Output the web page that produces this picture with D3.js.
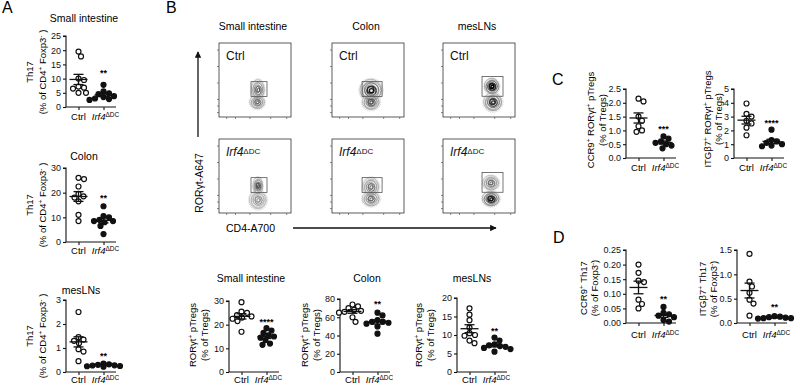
<!DOCTYPE html>
<html>
<head>
<meta charset="utf-8">
<script src="https://cdn.jsdelivr.net/npm/d3@7"></script>
<style>
  body { margin: 0; background: #fff; }
  svg { display: block; font-family: 'Liberation Sans', Arial, sans-serif; }
</style>
</head>
<body>
<svg id="fig" width="800" height="386"></svg>
<script>
'use strict'

// ---- values ----
var groups = ['Ctrl', 'Irf4']

var siTh17Ctrl = [19.5, 17.8, 10, 9.5, 7.2, 6.8, 6.5, 5, 5]
var siTh17Ko = [7.8, 5.5, 4.8, 4.5, 3.8, 3.5, 3, 2.8, 2.5]
var colTh17Ctrl = [26, 25.5, 22.5, 19.5, 18.5, 18, 16.5, 11, 8.5]
var colTh17Ko = [14.5, 10.5, 10, 9, 8.5, 8.5, 8, 6.5, 3.2]
var mesTh17Ctrl = [2.5, 1.45, 1.35, 1.3, 1.2, 0.95, 0.85, 0.45]
var mesTh17Ko = [0.35, 0.32, 0.3, 0.28, 0.27, 0.25, 0.24, 0.22]

var siRorCtrl = [29.5, 25.5, 25, 24, 23.5, 23, 22.5, 21.5, 17]
var siRorKo = [18.5, 17.5, 16.5, 15.5, 15, 14.5, 13.5, 12, 11.5]
var colRorCtrl = [74, 72, 70, 68, 67, 66, 65, 60, 55]
var colRorKo = [65, 62, 57, 55, 55, 54, 53, 50, 42]
var mesRorCtrl = [17.2, 15.5, 14, 12, 10.5, 10, 9.8, 8.5, 7.8]
var mesRorKo = [9.3, 8.5, 7.5, 7.2, 7, 6.8, 6.5, 6.2, 5.5]

var ccr9TregCtrl = [2.15, 2.05, 1.5, 1.35, 1.15, 1.0, 0.95]
var ccr9TregKo = [0.78, 0.7, 0.6, 0.55, 0.5, 0.45, 0.35]
var itgTregCtrl = [3.95, 3.2, 3.0, 2.7, 2.5, 2.2, 1.65]
var itgTregKo = [2.05, 1.3, 1.2, 1.1, 1.0, 0.9, 0.85]

var ccr9Th17Ctrl = [0.2, 0.172, 0.145, 0.14, 0.08, 0.065, 0.05]
var ccr9Th17Ko = [0.055, 0.035, 0.03, 0.025, 0.02, 0.01, 0.005]
var itgTh17Ctrl = [1.42, 0.85, 0.75, 0.62, 0.48, 0.4, 0.15]
var itgTh17Ko = [0.14, 0.13, 0.12, 0.11, 0.1, 0.1, 0.09]

var ticksSiTh17 = [0, 5, 10, 15, 20, 25]
var ticks30 = [0, 10, 20, 30]
var ticks3 = [0, 1, 2, 3]
var ticks80 = [0, 20, 40, 60, 80]
var ticks20 = [0, 5, 10, 15, 20]
var ticks25 = [0, 0.5, 1, 1.5, 2, 2.5]
var ticks5 = [0, 1, 2, 3, 4, 5]
var ticks025 = [0, 0.05, 0.1, 0.15, 0.2, 0.25]
var ticks15 = [0, 0.5, 1, 1.5]

// flow cytometry panels (axis units = decades)
var flowCols = ['Small intestine', 'Colon', 'mesLNs']
var flowRows = ['Ctrl', 'Irf4']
var flowGates = [[1.9, 2.9, 1.15, 2.05], [1.78, 3.03, 1.15, 2.05], [2.34, 3.65, 1.16, 2.36]]
// [col, row, cd4, ror, spreadX, spreadY, density]
var flowPops = [
  [0, 0, 2.34, 1.55, 0.33, 0.5, 0.55],
  [0, 0, 2.3, 0.8, 0.38, 0.34, 0.5],
  [1, 0, 2.34, 1.52, 0.56, 0.54, 0.9],
  [1, 0, 2.34, 0.8, 0.44, 0.39, 0.6],
  [2, 0, 2.96, 1.76, 0.38, 0.39, 1],
  [2, 0, 3.02, 0.8, 0.47, 0.45, 0.8],
  [0, 1, 2.34, 1.54, 0.25, 0.43, 0.6],
  [0, 1, 2.34, 0.69, 0.44, 0.46, 0.35],
  [1, 1, 2.34, 1.48, 0.41, 0.46, 0.5],
  [1, 1, 2.34, 0.75, 0.44, 0.37, 0.5],
  [2, 1, 2.9, 1.72, 0.41, 0.37, 0.5],
  [2, 1, 2.9, 0.75, 0.44, 0.37, 0.9]
]
var flowXTicks = [0.35, 0.9, 1.8, 3.1, 4.1]
var flowYTicks = [0.2, 0.6, 1, 2, 3, 4]

var svg = d3.select('#fig')
var FS = 9.5
var TFS = 9

// tiny markup: ^{..} superscript, *{..} italic
function rich(sel, str) {
  var re = /\^\{([^}]*)\}|\*\{([^}]*)\}|([^^*]+)/g
  var m, lifted = false
  while ((m = re.exec(str))) {
    var t = sel.append('tspan')
    if (m[1] !== undefined) {
      t.text(m[1]).attr('font-size', '0.68em').attr('dy', -3.5)
      lifted = true
    } else {
      if (lifted) { t.attr('dy', 3.5); lifted = false }
      t.text(m[2] !== undefined ? m[2] : m[3])
      if (m[2] !== undefined) t.attr('font-style', 'italic')
    }
  }
  return sel
}

function swarm(vals, y, cx, r) {
  var placed = []
  return vals.map(function(v) {
    var py = y(v), px = cx
    for (var d = 0; d < 20; d += 0.5) {
      var found = false
      var cand = d === 0 ? [0] : [d, -d]
      for (var k = 0; k < cand.length; k++) {
        var tx = cx + cand[k]
        var ok = placed.every(function(p) {
          var dx = p[0] - tx, dy = p[1] - py
          return dx * dx + dy * dy >= (2 * r + 0.4) * (2 * r + 0.4)
        })
        if (ok) { px = tx; found = true; break }
      }
      if (found) break
    }
    placed.push([px, py])
    return { v: v, x: px, y: py }
  })
}

function dotPlot(o) {
  var g = svg.append('g')
  var y = d3.scaleLinear().domain([0, d3.max(o.ticks)]).range([o.bot, o.top])
  var x = d3.scalePoint().domain(groups).range([o.x0, o.x0 + 50]).padding(0.5)

  var yAxis = d3.axisLeft(y).tickValues(o.ticks).tickSize(3).tickPadding(2)
    .tickFormat(d3.format(o.fmt || 'd'))
  g.append('g').attr('transform', 'translate(' + o.x0 + ',0)').call(yAxis)
    .call(function(a) {
      a.select('.domain').attr('d', 'M-3,' + y(d3.max(o.ticks)) + 'H0V' + o.bot)
      a.selectAll('text').attr('font-size', TFS).attr('font-family', null).attr('fill', '#111')
    })

  var xAxis = d3.axisBottom(x).tickSize(3).tickFormat('')
  g.append('g').attr('transform', 'translate(0,' + o.bot + ')').call(xAxis)
    .call(function(a) {
      a.select('.domain').attr('d', 'M' + o.x0 + ',0H' + (o.x0 + 50))
    })
  g.selectAll('.domain, .tick line').attr('stroke', '#111').attr('stroke-width', 1.1)

  var xl = o.bot + (o.xlabDy || 12)
  g.append('text').attr('x', x('Ctrl')).attr('y', xl).attr('text-anchor', 'middle')
    .attr('font-size', FS).text('Ctrl')
  rich(g.append('text').attr('x', x('Irf4') + 2).attr('y', xl).attr('text-anchor', 'middle')
    .attr('font-size', FS), '*{Irf4}^{ΔDC}')

  if (o.title) {
    g.append('text').attr('x', o.titleX).attr('y', o.titleY).attr('text-anchor', 'middle')
      .attr('font-size', 10.5).text(o.title)
  }
  o.ylab.forEach(function(s, i) {
    rich(g.append('text').attr('transform', 'translate(' + o.ylabX[i] + ',' + o.ylabY + ') rotate(-90)')
      .attr('text-anchor', 'middle').attr('font-size', FS), s)
  })

  var r = 2.5
  var sets = [[o.ctrl, 'Ctrl', '#fff'], [o.ko, 'Irf4', '#111']]
  sets.forEach(function(s) {
    var pts = swarm(s[0], y, x(s[1]), r)
    g.append('g').selectAll('circle').data(pts).enter().append('circle')
      .attr('cx', function(d) { return d.x })
      .attr('cy', function(d) { return d.y })
      .attr('r', r)
      .attr('fill', s[2]).attr('stroke', '#111').attr('stroke-width', 1.2)
    var m = d3.mean(s[0])
    var sem = d3.deviation(s[0]) / Math.sqrt(s[0].length)
    var cx = x(s[1])
    var e = g.append('g').attr('stroke', '#111').attr('stroke-width', 1.3)
    e.append('line').attr('x1', cx - 9).attr('x2', cx + 9).attr('y1', y(m)).attr('y2', y(m))
    e.append('line').attr('x1', cx).attr('x2', cx).attr('y1', y(m - sem)).attr('y2', y(m + sem))
    e.append('line').attr('x1', cx - 5).attr('x2', cx + 5).attr('y1', y(m - sem)).attr('y2', y(m - sem))
    e.append('line').attr('x1', cx - 5).attr('x2', cx + 5).attr('y1', y(m + sem)).attr('y2', y(m + sem))
  })

  g.append('text').attr('x', x('Irf4')).attr('y', y(o.starV) + 5).attr('text-anchor', 'middle')
    .attr('font-size', 9).attr('font-weight', 'bold').text(o.stars)
}

var labA = ['Th17', '(% of CD4^{+} Foxp3^{-} )']
var labB = ['RORγt^{+} pTregs', '(% of Tregs)']

dotPlot({ ctrl: siTh17Ctrl, ko: siTh17Ko, ticks: ticksSiTh17, x0: 66, top: 36, bot: 107, xlabDy: 13,
  title: 'Small intestine', titleX: 84, titleY: 22, ylab: labA, ylabX: [33, 46], ylabY: 72, stars: '**', starV: 12.7 })
dotPlot({ ctrl: colTh17Ctrl, ko: colTh17Ko, ticks: ticks30, x0: 66, top: 168, bot: 242,
  title: 'Colon', titleX: 84, titleY: 160, ylab: labA, ylabX: [33, 46], ylabY: 205, stars: '**', starV: 18.6 })
dotPlot({ ctrl: mesTh17Ctrl, ko: mesTh17Ko, ticks: ticks3, x0: 66, top: 300, bot: 372, xlabDy: 11,
  title: 'mesLNs', titleX: 81, titleY: 294, ylab: labA, ylabX: [33, 46], ylabY: 336, stars: '**', starV: 0.75 })

dotPlot({ ctrl: siRorCtrl, ko: siRorKo, ticks: ticks30, x0: 229, top: 301, bot: 372, xlabDy: 11,
  title: 'Small intestine', titleX: 251, titleY: 282, ylab: labB, ylabX: [196, 208], ylabY: 335, stars: '****', starV: 22 })
dotPlot({ ctrl: colRorCtrl, ko: colRorKo, ticks: ticks80, x0: 340, top: 299, bot: 372, xlabDy: 11,
  title: 'Colon', titleX: 367, titleY: 282, ylab: labB, ylabX: [308, 320], ylabY: 335, stars: '**', starV: 76.7 })
dotPlot({ ctrl: mesRorCtrl, ko: mesRorKo, ticks: ticks20, x0: 457, top: 298, bot: 372, xlabDy: 11,
  title: 'mesLNs', titleX: 472, titleY: 282, ylab: labB, ylabX: [422, 434], ylabY: 335, stars: '**', starV: 11.5 })

dotPlot({ ctrl: ccr9TregCtrl, ko: ccr9TregKo, ticks: ticks25, fmt: '.1f', x0: 626, top: 89, bot: 158, xlabDy: 13,
  ylab: ['CCR9^{+} RORγt^{+} pTregs', '(% of Tregs)'], ylabX: [594, 606], ylabY: 120, stars: '***', starV: 1.13 })
dotPlot({ ctrl: itgTregCtrl, ko: itgTregKo, ticks: ticks5, x0: 734, top: 89, bot: 158, xlabDy: 13,
  ylab: ['ITGβ7^{+} RORγt^{+} pTregs', '(% of Tregs)'], ylabX: [711, 722], ylabY: 119, stars: '****', starV: 2.68 })

dotPlot({ ctrl: ccr9Th17Ctrl, ko: ccr9Th17Ko, ticks: ticks025, fmt: '.2f', x0: 626, top: 250, bot: 323, xlabDy: 15,
  ylab: ['CCR9^{+} Th17', '(% of Foxp3^{-})'], ylabX: [587, 598], ylabY: 288, stars: '**', starV: 0.089 })
dotPlot({ ctrl: itgTh17Ctrl, ko: itgTh17Ko, ticks: ticks15, fmt: '.1f', x0: 737, top: 250, bot: 323, xlabDy: 15,
  ylab: ['ITGβ7^{+} Th17', '(% of  Foxp3^{-})'], ylabX: [706, 717], ylabY: 289, stars: '**', starV: 0.37 })

// ---- flow plots ----
var colX = [219, 332, 443]
var rowY = [43, 139]
var fw = 72, fh = 74
var spreadK = 1.2

flowCols.forEach(function(name, c) {
  svg.append('text').attr('x', colX[c] + 34).attr('y', 30).attr('text-anchor', 'middle')
    .attr('font-size', 10.5).text(name)
  flowRows.forEach(function(rowName, r) {
    var x = d3.scaleLinear().domain([-0.1, 4.4]).range([colX[c], colX[c] + fw])
    var y = d3.scaleLinear().domain([-0.1, 4.4]).range([rowY[r] + fh, rowY[r]])
    var g = svg.append('g')
    var cp = 'clip' + c + r
    g.append('clipPath').attr('id', cp).append('rect')
      .attr('x', colX[c]).attr('y', rowY[r]).attr('width', fw).attr('height', fh)

    var pops = flowPops.filter(function(p) { return p[0] === c && p[1] === r })
    var pg = g.append('g').attr('clip-path', 'url(#' + cp + ')')
    // faint outer halo first, then contour rings
    pops.forEach(function(p) {
      pg.append('ellipse').attr('cx', x(p[2])).attr('cy', y(p[3]))
        .attr('rx', (x(p[4]) - x(0)) * spreadK * 1.15).attr('ry', (y(0) - y(p[5])) * spreadK * 1.15)
        .attr('fill', '#ececec').attr('stroke', '#c4c4c4').attr('stroke-width', 0.5)
        .attr('stroke-dasharray', '1,1')
    })
    pops.forEach(function(p) {
      var rings = d3.range(8)
      pg.selectAll(null).data(rings).enter().append('ellipse')
        .attr('cx', function(i) { return x(p[2]) + (i % 2 ? 0.4 : -0.3) })
        .attr('cy', function(i) { return y(p[3]) + (i % 3 ? 0.3 : -0.4) })
        .attr('rx', function(i) { return (x(p[4]) - x(0)) * spreadK * (1 - i * 0.115) })
        .attr('ry', function(i) { return (y(0) - y(p[5])) * spreadK * (1 - i * 0.115) })
        .attr('fill', 'none')
        .attr('stroke', function(i) {
          return d3.interpolateRgb('#bcbcbc', '#000')(p[6] * (0.2 + 0.8 * i / 7))
        })
        .attr('stroke-width', function(i) { return 0.5 + p[6] * (i > 4 ? 0.9 : 0.2) })
    })

    var gate = flowGates[c]
    g.append('rect').attr('x', x(gate[0])).attr('y', y(gate[3]))
      .attr('width', x(gate[1]) - x(gate[0])).attr('height', y(gate[2]) - y(gate[3]))
      .attr('fill', 'none').attr('stroke', '#555').attr('stroke-width', 0.8)

    g.append('rect').attr('x', colX[c]).attr('y', rowY[r]).attr('width', fw).attr('height', fh)
      .attr('fill', 'none').attr('stroke', '#333').attr('stroke-width', 0.8)

    g.append('g').attr('transform', 'translate(0,' + (rowY[r] + fh) + ')')
      .call(d3.axisBottom(x).tickValues(flowXTicks).tickSize(2).tickFormat(''))
      .call(function(a) { a.select('.domain').remove() })
    g.append('g').attr('transform', 'translate(' + colX[c] + ',0)')
      .call(d3.axisLeft(y).tickValues(flowYTicks).tickSize(2).tickFormat(''))
      .call(function(a) { a.select('.domain').remove() })
    g.selectAll('.tick line').attr('stroke', '#666').attr('stroke-width', 0.8)

    var lab = g.append('text').attr('x', colX[c] + 7).attr('y', rowY[r] + 17)
      .attr('font-size', 12).attr('fill', '#111')
    if (rowName === 'Ctrl') lab.text('Ctrl')
    else {
      lab.append('tspan').attr('font-style', 'italic').text('Irf4')
      lab.append('tspan').attr('font-size', 8).attr('dy', -2).text('ΔDC')
    }
  })
})

// axis arrows
var defs = svg.append('defs')
defs.append('marker').attr('id', 'arr').attr('viewBox', '0 0 10 10').attr('refX', 9).attr('refY', 5)
  .attr('markerWidth', 5).attr('markerHeight', 5).attr('orient', 'auto')
  .append('path').attr('d', 'M0,0L10,5L0,10z').attr('fill', '#111')
svg.append('line').attr('x1', 198).attr('x2', 198).attr('y1', 137).attr('y2', 52)
  .attr('stroke', '#111').attr('stroke-width', 1.3).attr('marker-end', 'url(#arr)')
svg.append('line').attr('x1', 293).attr('x2', 496).attr('y1', 228).attr('y2', 228)
  .attr('stroke', '#111').attr('stroke-width', 1.3).attr('marker-end', 'url(#arr)')
svg.append('text').attr('transform', 'translate(203,183) rotate(-90)').attr('text-anchor', 'middle')
  .attr('font-size', 10.5).text('RORγt-A647')
svg.append('text').attr('x', 226).attr('y', 232).attr('font-size', 10.5).text('CD4-A700')

// panel letters
var letters = [['A', 2, 13], ['B', 166, 13], ['C', 552, 85], ['D', 553, 243]]
svg.selectAll('.letter').data(letters).enter().append('text').attr('class', 'letter')
  .attr('x', function(d) { return d[1] }).attr('y', function(d) { return d[2] })
  .attr('font-size', 16).text(function(d) { return d[0] })
</script>
</body>
</html>
